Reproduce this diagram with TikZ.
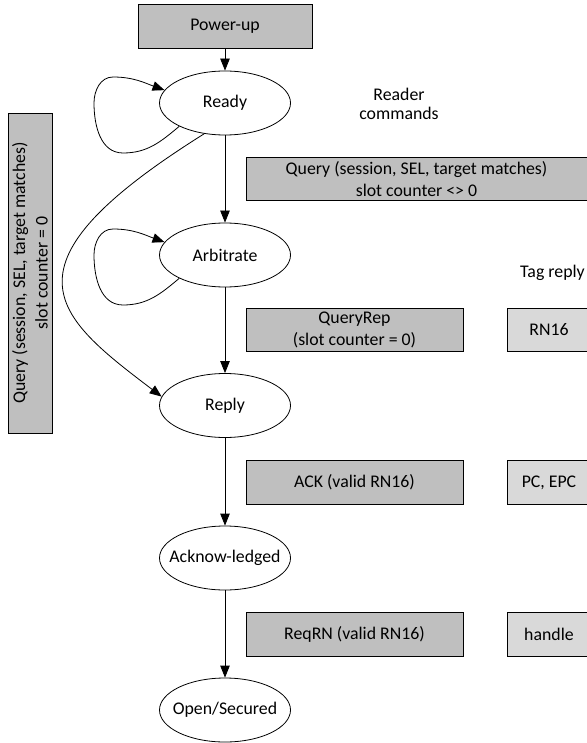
\documentclass[tikz,border=0pt]{standalone}
\usepackage{fontspec}
\setmainfont{Carlito}
\usetikzlibrary{shapes.geometric,arrows.meta,calc}
\definecolor{cmdgray}{RGB}{191,191,191}
\definecolor{replygray}{RGB}{217,217,217}
\begin{document}
\begin{tikzpicture}[x=1pt,y=-1pt,
  every node/.style={font=\fontsize{17.8}{22.5}\selectfont, inner sep=0pt, align=center},
  state/.style={draw, line width=0.8pt, ellipse, fill=white, inner xsep=-12pt, minimum width=131pt, minimum height=64pt},
  cmdbox/.style={draw, line width=0.8pt, fill=cmdgray, minimum height=43.5pt},
  replybox/.style={draw, line width=0.8pt, fill=replygray, minimum height=43.5pt, minimum width=84pt},
  flow/.style={-{Triangle[length=12pt,width=9.5pt]}, line width=0.8pt},
]
\useasboundingbox (0,0) rectangle (586,743);

% states of the tag
\node[cmdbox, minimum width=174pt] (power) at (225,26.5) {Power-up};
\node[state] (ready) at (225,103) {Ready};
\node[state] (arb) at (225,255) {Arbitrate};
\node[state] (reply) at (225,405.5) {Reply};
\node[state] (ack) at (225,558) {Acknow-ledged};
\node[state] (open) at (225,710) {Open/Secured};

% reader commands
\node[font=\fontsize{17.8}{19}\selectfont] (readerlbl) at (399,104) {Reader\\commands};
\node[cmdbox, minimum width=341pt] (query) at (416.5,179) {Query (session, SEL, target matches)\\slot counter <> 0};
\node[cmdbox, minimum width=217pt] (queryrep) at (354.5,330) {QueryRep\\(slot counter = 0)};
\node[cmdbox, minimum width=217pt] (ackcmd) at (354.5,482.5) {ACK (valid RN16)};
\node[cmdbox, minimum width=217pt] (reqrn) at (354.5,634.5) {ReqRN (valid RN16)};
\node[cmdbox, minimum width=320pt, minimum height=44pt, rotate=90] (queryzero) at (30,273) {Query (session, SEL, target matches)\\slot counter = 0};

% tag replies
\node[anchor=west] (taglbl) at (520,273) {Tag reply};
\node[replybox] (rn16) at (549,330) {RN16};
\node[replybox] (pcepc) at (549,482.5) {PC, EPC};
\node[replybox] (handle) at (549,634.5) {handle};

% transitions
\draw[flow] (power) -- (ready);
\draw[flow] (ready) -- (arb);
\draw[flow] (arb) -- (reply);
\draw[flow] (reply) -- (ack);
\draw[flow] (ack) -- (open);

% self loops
\foreach \s in {ready, arb} {
  \draw[flow] (\s.207) to[out=220,in=0] ($(\s)+(-102,50)$)
    to[out=180,in=270] ($(\s)+(-131,0)$)
    to[out=90,in=180] ($(\s)+(-112,-26)$)
    to[out=0,in=160] (\s.168);
}

% skip from Ready to Reply
\draw[flow] (ready.236) .. controls (-7,266) and (54,315) .. (reply.172);
\end{tikzpicture}
\end{document}
